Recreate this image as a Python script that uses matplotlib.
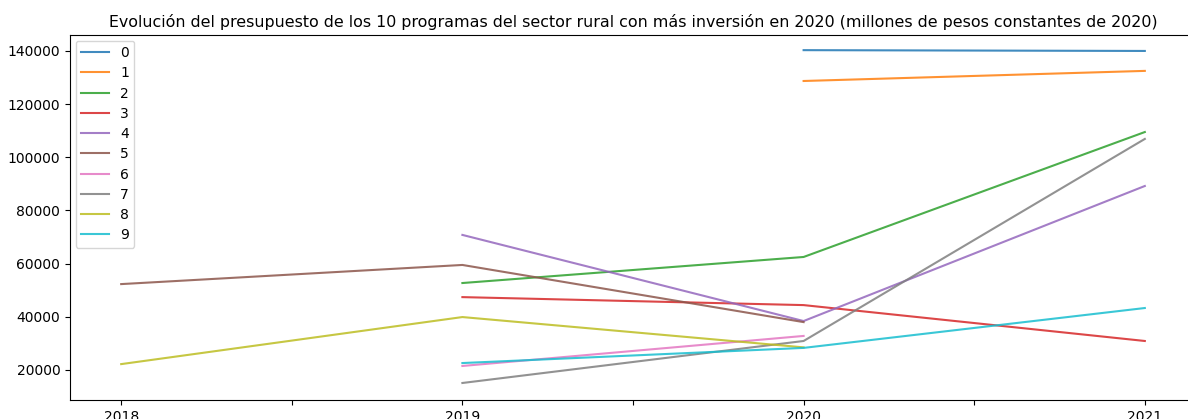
import numpy as np
import matplotlib
matplotlib.use("Agg")
import matplotlib.pyplot as plt

# years on the x axis
years = [2018, 2019, 2020, 2021]
nan = np.nan

# budget per program (millions of constant 2020 pesos)
prog_0 = [nan, nan, 140300, 140000]
prog_1 = [nan, nan, 128700, 132500]
prog_2 = [nan, 52700, 62500, 109500]
prog_3 = [nan, 47400, 44400, 30900]
prog_4 = [nan, 70800, 38400, 89200]
prog_5 = [52300, 59500, 38000, nan]
prog_6 = [nan, 21500, 32800, nan]
prog_7 = [nan, 15100, 30900, 106900]
prog_8 = [22200, 39900, 28500, nan]
prog_9 = [nan, 22600, 28300, 43300]

series = [prog_0, prog_1, prog_2, prog_3, prog_4,
          prog_5, prog_6, prog_7, prog_8, prog_9]
labels = [str(i) for i in range(len(series))]

fig = plt.figure(figsize=(11.88, 4.19), dpi=100)
ax = fig.add_axes([70 / 1188, 19 / 419, 1126 / 1188, 365 / 419])

for lab, vals in zip(labels, series):
    ax.plot(years, vals, label=lab, lw=1.5, alpha=0.85)

# x ticks every half year, labels only on whole years
ticks = np.arange(2018, 2021.01, 0.5)
ax.set_xticks(ticks)
ax.set_xticklabels([str(int(t)) if t == int(t) else '' for t in ticks])
ax.set_xlim(2017.85, 2021.15)
ax.set_ylim(8700, 146000)
ax.set_yticks(range(20000, 140001, 20000))

ax.set_title('Evolución del presupuesto de los 10 programas del sector rural con más inversión en 2020 '
             '(millones de pesos constantes de 2020)', fontsize=11.4)
ax.legend(loc='upper left', labelspacing=0.45, borderaxespad=0.4)

fig.savefig('out.png', dpi=100)
